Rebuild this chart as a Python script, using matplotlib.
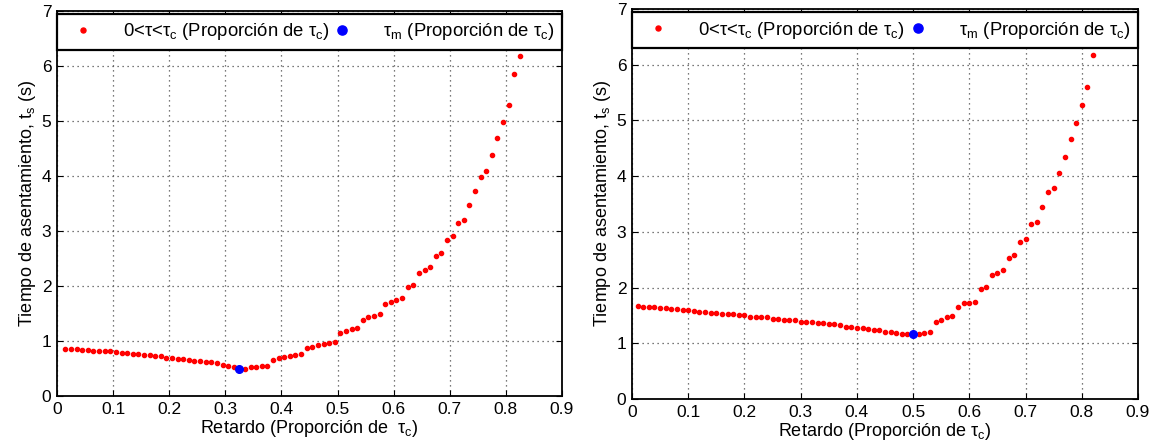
import numpy as np
import matplotlib.pyplot as plt

plt.rcParams['font.family'] = ['Liberation Sans', 'DejaVu Sans']
plt.rcParams['mathtext.fontset'] = 'custom'
plt.rcParams['mathtext.rm'] = 'Liberation Sans'
plt.rcParams['mathtext.it'] = 'Liberation Sans'

# left panel: delay (fraction of tau_c) vs settling time
ret_izq = [0.015, 0.025, 0.035, 0.045, 0.055, 0.065, 0.075, 0.085, 0.095, 0.105,
           0.115, 0.125, 0.135, 0.145, 0.155, 0.165, 0.175, 0.185, 0.195, 0.205,
           0.215, 0.225, 0.235, 0.245, 0.255, 0.265, 0.275, 0.285, 0.295, 0.305,
           0.315, 0.325, 0.335, 0.345, 0.355, 0.365, 0.375, 0.385, 0.395, 0.405,
           0.415, 0.425, 0.435, 0.445, 0.455, 0.465, 0.475, 0.485, 0.495, 0.505,
           0.515, 0.525, 0.535, 0.545, 0.555, 0.565, 0.575, 0.585, 0.595, 0.605,
           0.615, 0.625, 0.635, 0.645, 0.655, 0.665, 0.675, 0.685, 0.695, 0.705,
           0.715, 0.725, 0.735, 0.745, 0.755, 0.765, 0.775, 0.785, 0.795, 0.805,
           0.815, 0.825]
ts_izq = [0.86, 0.86, 0.86, 0.84, 0.84, 0.82, 0.82, 0.82, 0.81, 0.80,
          0.79, 0.79, 0.77, 0.77, 0.75, 0.75, 0.73, 0.73, 0.70, 0.70,
          0.68, 0.68, 0.66, 0.64, 0.64, 0.62, 0.62, 0.60, 0.56, 0.54,
          0.52, 0.50, 0.50, 0.52, 0.52, 0.55, 0.55, 0.65, 0.70, 0.71,
          0.72, 0.75, 0.76, 0.87, 0.90, 0.93, 0.95, 0.96, 0.99, 1.15,
          1.18, 1.21, 1.23, 1.39, 1.44, 1.46, 1.49, 1.67, 1.71, 1.74,
          1.78, 1.99, 2.01, 2.23, 2.29, 2.34, 2.54, 2.60, 2.84, 2.90,
          3.14, 3.20, 3.48, 3.73, 3.99, 4.10, 4.39, 4.69, 4.98, 5.30,
          5.85, 6.19]
tm_izq = (0.325, 0.50)

# right panel
ret_der = [0.01, 0.02, 0.03, 0.04, 0.05, 0.06, 0.07, 0.08, 0.09, 0.10,
           0.11, 0.12, 0.13, 0.14, 0.15, 0.16, 0.17, 0.18, 0.19, 0.20,
           0.21, 0.22, 0.23, 0.24, 0.25, 0.26, 0.27, 0.28, 0.29, 0.30,
           0.31, 0.32, 0.33, 0.34, 0.35, 0.36, 0.37, 0.38, 0.39, 0.40,
           0.41, 0.42, 0.43, 0.44, 0.45, 0.46, 0.47, 0.48, 0.49, 0.50,
           0.51, 0.52, 0.53, 0.54, 0.55, 0.56, 0.57, 0.58, 0.59, 0.60,
           0.61, 0.62, 0.63, 0.64, 0.65, 0.66, 0.67, 0.68, 0.69, 0.70,
           0.71, 0.72, 0.73, 0.74, 0.75, 0.76, 0.77, 0.78, 0.79, 0.80,
           0.81, 0.82]
ts_der = [1.67, 1.66, 1.66, 1.66, 1.63, 1.63, 1.62, 1.62, 1.59, 1.59,
          1.58, 1.57, 1.57, 1.54, 1.54, 1.53, 1.53, 1.53, 1.50, 1.50,
          1.48, 1.48, 1.47, 1.47, 1.44, 1.44, 1.42, 1.42, 1.41, 1.39,
          1.38, 1.38, 1.36, 1.36, 1.34, 1.34, 1.33, 1.30, 1.30, 1.28,
          1.28, 1.26, 1.23, 1.23, 1.21, 1.21, 1.18, 1.17, 1.17, 1.17,
          1.17, 1.19, 1.21, 1.38, 1.42, 1.47, 1.49, 1.66, 1.72, 1.73,
          1.75, 1.98, 2.01, 2.22, 2.27, 2.32, 2.53, 2.59, 2.82, 2.88,
          3.14, 3.17, 3.45, 3.72, 3.78, 4.05, 4.34, 4.66, 4.95, 5.27,
          5.60, 6.17]
tm_der = (0.50, 1.17)

lbl_rango = '0<τ<τ$_\\mathrm{c}$ (Proporción de τ$_\\mathrm{c}$)'
lbl_tm = 'τ$_\\mathrm{m}$ (Proporción de τ$_\\mathrm{c}$)'

fig = plt.figure(figsize=(11.63, 4.47), dpi=100)
ax1 = fig.add_axes([57 / 1163, 51 / 447, 505 / 1163, 385 / 447])
ax2 = fig.add_axes([632 / 1163, 48 / 447, 506 / 1163, 390 / 447])

paneles = [(ax1, ret_izq, ts_izq, tm_izq, 'Retardo (Proporción de  τ$_\\mathrm{c}$)'),
           (ax2, ret_der, ts_der, tm_der, 'Retardo (Proporción de τ$_\\mathrm{c}$)')]

for ax, x, y, tm, xlab in paneles:
    ax.plot(x, y, '.', color='red', markersize=6, label=lbl_rango)
    ax.plot(tm[0], tm[1], 'o', color='blue', markersize=5.5, label=lbl_tm)
    ax.set_xlim(0, 0.9)
    ax.set_ylim(0, 7)
    ax.set_xticks(np.arange(0, 0.91, 0.1))
    ax.set_xticklabels(['0', '0.1', '0.2', '0.3', '0.4', '0.5', '0.6', '0.7', '0.8', '0.9'])
    ax.set_yticks(range(8))
    ax.grid(True, linestyle=(0, (1, 3)), color='0.3', linewidth=0.9)
    ax.tick_params(direction='in', top=True, right=True, labelsize=12.5, length=4, pad=4)
    for s in ax.spines.values():
        s.set_linewidth(1.3)
    ax.set_xlabel(xlab, fontsize=13, labelpad=1)
    ax.set_ylabel('Tiempo de asentamiento, t$_\\mathrm{s}$ (s)', fontsize=13, labelpad=3)
    h = 42 / 385
    leg = ax.legend(loc='center', bbox_to_anchor=(0, 1 - h, 1, h), mode='expand', ncol=2,
                    fancybox=False, framealpha=1, edgecolor='black', fontsize=13.3,
                    borderaxespad=0, handletextpad=1.2, markerscale=1.2)
    leg.get_frame().set_linewidth(1.6)

fig.savefig('out.png', dpi=100)
